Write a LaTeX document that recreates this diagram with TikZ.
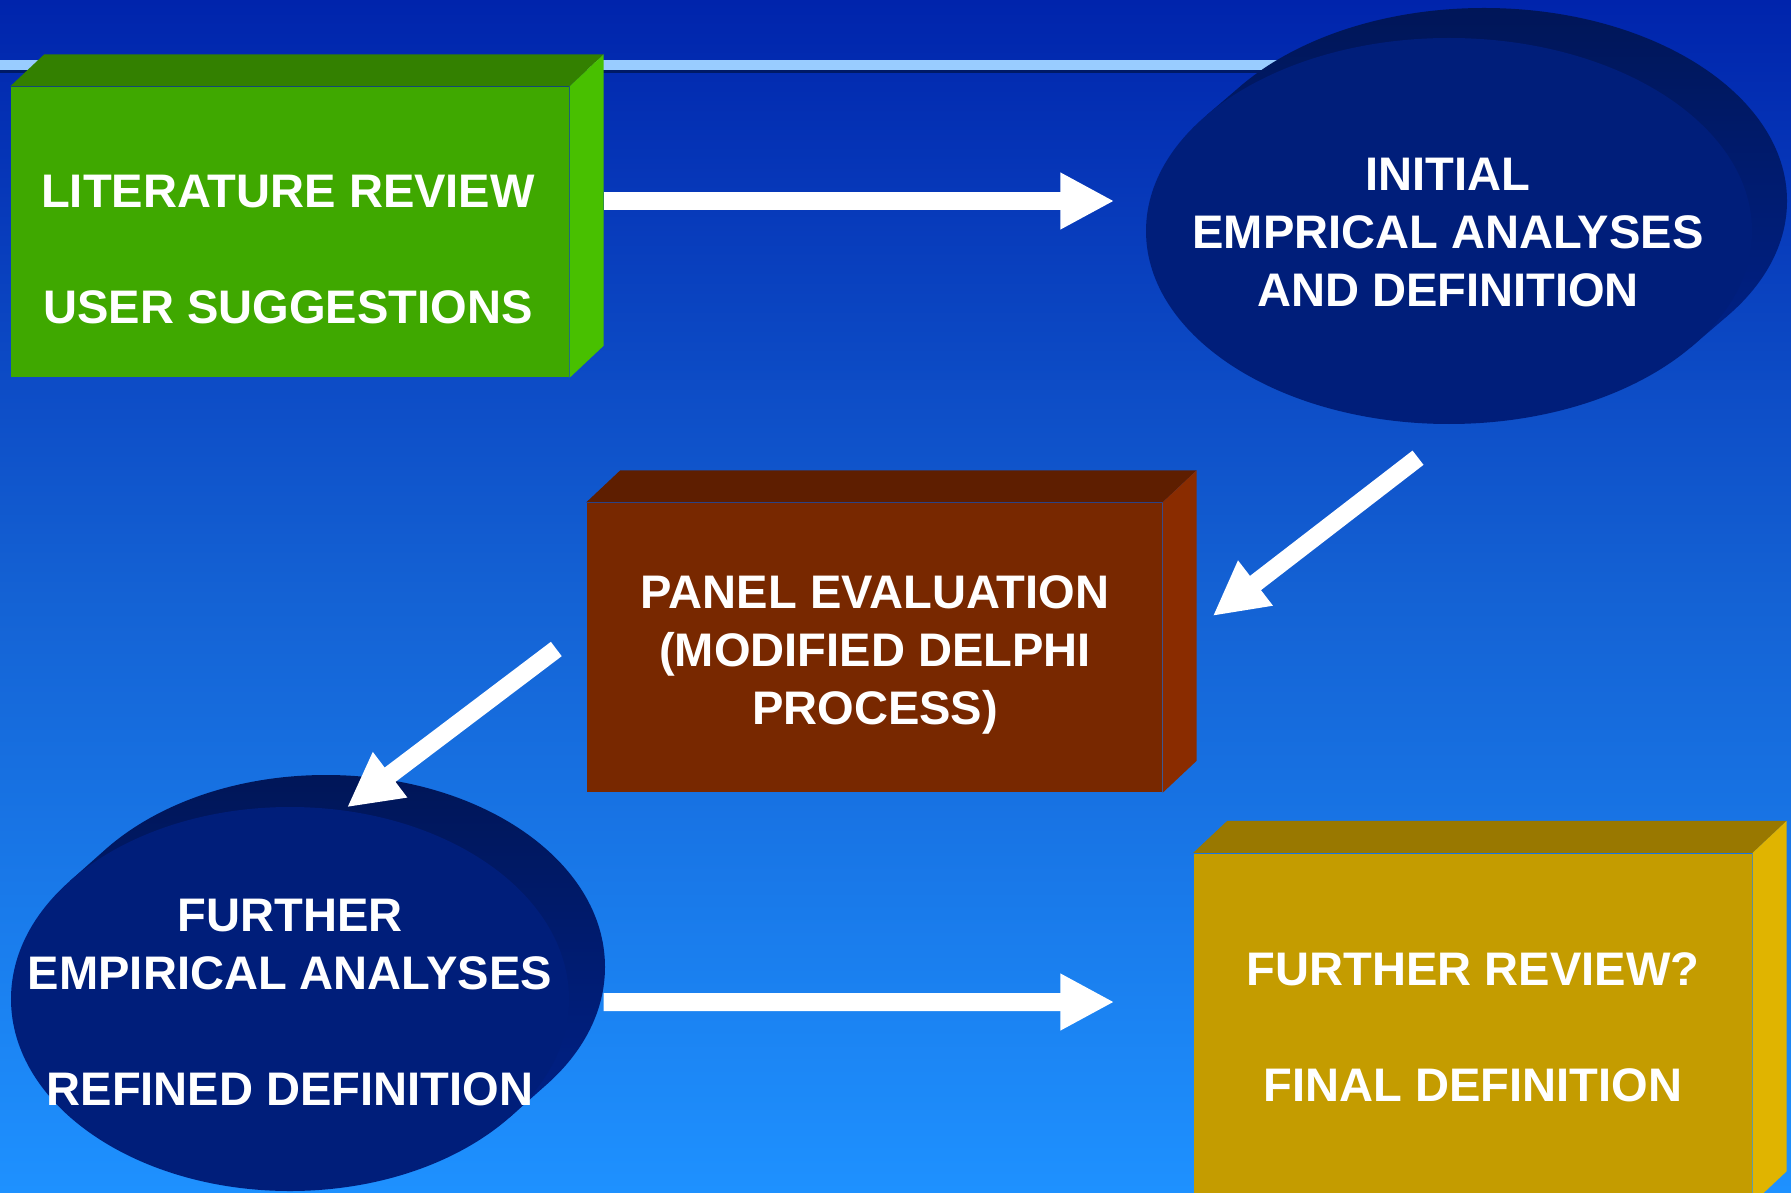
\documentclass[tikz,border=0pt]{standalone}
\usepackage{fontspec}
\setmainfont{Liberation Sans}
\usetikzlibrary{arrows.meta,shapes.geometric}

% slide colours
\definecolor{bgtop}{RGB}{0,36,172}
\definecolor{bgmid}{RGB}{20,98,212}
\definecolor{bgbottom}{RGB}{30,145,255}
\definecolor{rulelight}{RGB}{153,204,255}
\definecolor{ruleshadow}{RGB}{0,26,102}
\definecolor{litfront}{RGB}{63,168,0}
\definecolor{littop}{RGB}{51,128,0}
\definecolor{litside}{RGB}{72,192,0}
\definecolor{panelfront}{RGB}{120,40,0}
\definecolor{paneltop}{RGB}{94,30,0}
\definecolor{panelside}{RGB}{138,44,0}
\definecolor{finalfront}{RGB}{196,156,0}
\definecolor{finaltop}{RGB}{153,120,0}
\definecolor{finalside}{RGB}{224,180,0}
\definecolor{discfront}{RGB}{0,30,122}
\definecolor{disctop}{RGB}{0,22,88}
\definecolor{discbottom}{RGB}{0,34,140}

\begin{document}
\begin{tikzpicture}[x=1mm, y=1mm,
    font=\fontsize{13.4}{16.5}\selectfont\bfseries,
    stage/.style={rectangle, inner sep=0pt},
    disc/.style={ellipse, inner sep=0pt, fill=discfront},
    discside/.style={top color=disctop, bottom color=discbottom},
    caption/.style={text=white, align=center, inner sep=0pt},
    flow/.style={draw=white, line width=1.8mm, -{Triangle[length=5.4mm, width=5.3mm]}}]
    % 1 unit = 10 px of the slide, y measured upwards
    \useasboundingbox (0,0) rectangle (179.1,119.2);
    \clip (0,0) rectangle (179.1,119.2);

    % --- BACKGROUND ---
    \shade[top color=bgtop, bottom color=bgbottom, middle color=bgmid] (0,0) rectangle (179.1,119.2);
    \fill[ruleshadow] (0,111.9) rectangle (130,112.2); % shadow under the rule
    \fill[rulelight] (0,112.2) rectangle (130,113.2);  % light rule at the top

    % --- DISCS: back part first ---
    \coordinate (InitC) at (144.9,96.1);
    \coordinate (FurtherC) at (29.0,19.3);
    \path (InitC) ++(143:30.3 and 19.3) coordinate (InitA) ++(3.5,3.0) coordinate (InitAb);
    \path (InitC) ++(-37:30.3 and 19.3) coordinate (InitB) ++(3.5,3.0) coordinate (InitBb);
    \path (FurtherC) ++(142:27.9 and 19.2) coordinate (FurtherA) ++(3.6,3.2) coordinate (FurtherAb);
    \path (FurtherC) ++(-38:27.9 and 19.2) coordinate (FurtherB) ++(3.6,3.2) coordinate (FurtherBb);

    \shade[discside] ([shift={(3.5,3.0)}]InitC) ellipse [x radius=30.3, y radius=19.3]
        (InitA) -- (InitB) -- (InitBb) -- (InitAb) -- cycle;
    \shade[discside] ([shift={(3.6,3.2)}]FurtherC) ellipse [x radius=27.9, y radius=19.2]
        (FurtherA) -- (FurtherB) -- (FurtherBb) -- (FurtherAb) -- cycle;

    % front faces of the discs
    \node[disc, minimum width=60.6mm, minimum height=38.6mm] (init) at (InitC) {};
    \node[disc, minimum width=55.8mm, minimum height=38.4mm] (further) at (FurtherC) {};

    % --- BOXES: front faces ---
    \node[stage, fill=litfront, minimum width=55.8mm, minimum height=29.0mm] (lit) at (29.0,96.0) {};
    \node[stage, fill=panelfront, minimum width=57.5mm, minimum height=28.9mm] (panel) at (87.45,54.45) {};
    \node[stage, fill=finalfront, minimum width=55.8mm, minimum height=34.9mm] (final) at (147.3,16.4) {};

    % top and side faces
    \foreach \n/\topc/\sidec in {lit/littop/litside, panel/paneltop/panelside, final/finaltop/finalside}{
        \fill[\topc] (\n.north west) -- ++(3.4,3.2) -- ([shift={(3.4,3.2)}]\n.north east) -- (\n.north east) -- cycle;
        \fill[\sidec] (\n.north east) -- ++(3.4,3.2) -- ([shift={(3.4,3.2)}]\n.south east) -- (\n.south east) -- cycle;
    }

    % --- TEXTS ---
    \node[caption] (littext) at (28.8,94.2) {LITERATURE REVIEW\\[5.8mm]USER SUGGESTIONS};
    \node[caption] (inittext) at (144.8,95.9) {INITIAL\\EMPRICAL ANALYSES\\AND DEFINITION};
    \node[caption] (paneltext) at (87.5,53.7) {PANEL EVALUATION\\(MODIFIED DELPHI\\PROCESS)};
    \node[caption] (furthertext) at (29.0,18.95) {FURTHER\\EMPIRICAL ANALYSES\\[5.8mm]REFINED DEFINITION};
    \node[caption] (finaltext) at (147.3,16.5) {FURTHER REVIEW?\\[5.8mm]FINAL DEFINITION};

    % --- ARROWS ---
    \draw[flow] ([shift={(3.4,3.1)}]lit.east) -- ([shift={(-3.1,3.0)}]init.west);
    \draw[flow] ([shift={(-3.1,-3.3)}]init.south) -- ([shift={(5.0,3.15)}]panel.east);
    \draw[flow] ([shift={(-3.0,-0.15)}]panel.west) -- ([shift={(5.7,-0.1)}]further.north);
    \draw[flow] ([shift={(3.4,-0.3)}]further.east) -- ([shift={(-7.9,2.6)}]final.west);
\end{tikzpicture}
\end{document}
